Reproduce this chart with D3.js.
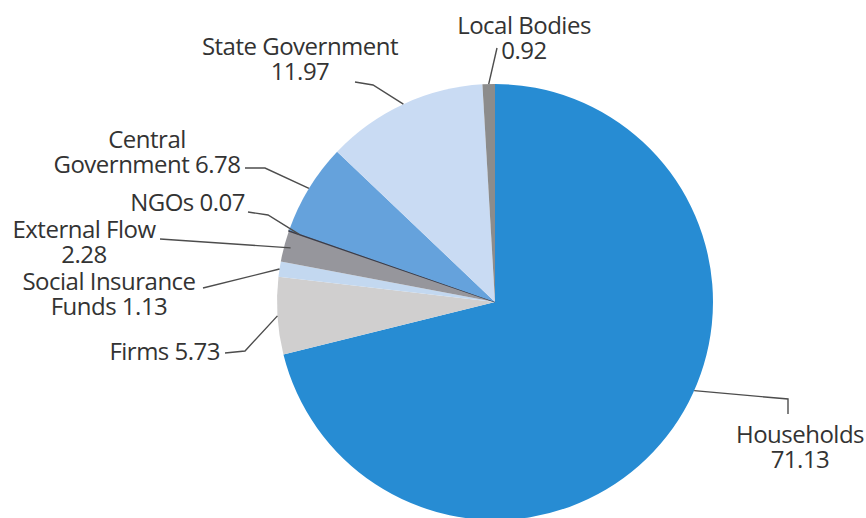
<!DOCTYPE html>
<html><head><meta charset="utf-8">
<script src="https://cdn.jsdelivr.net/npm/d3@7"></script>
<style>body{margin:0;background:#fff}svg{display:block}</style>
</head><body>
<svg id="c" width="866" height="518"></svg>
<script>
// data
const categories = ["Households","Firms","Social Insurance Funds","External Flow","NGOs","Central Government","State Government","Local Bodies"];
const values = [71.13, 5.73, 1.13, 2.28, 0.07, 6.78, 11.97, 0.92];
const labelLines = [
  ["Households","71.13"],
  ["Firms 5.73"],
  ["Social Insurance","Funds 1.13"],
  ["External Flow","2.28"],
  ["NGOs 0.07"],
  ["Central","Government 6.78"],
  ["State Government","11.97"],
  ["Local Bodies","0.92"]
];
// styling / layout
const colors = ["#278cd3","#d0cfcf","#c3d8f0","#96969c","#4a4a55","#65a2dc","#c9dbf3","#8c8c8c"];
const W = 866, H = 518, cx = 495, cy = 302, R = 218;
const labelLayout = [
  {x:800, y:443, a:"middle"},
  {x:220, y:360, a:"end"},
  {x:109, y:290, a:"middle"},
  {x:84,  y:238, a:"middle"},
  {x:245, y:211, a:"end"},
  {x:147, y:148, a:"middle"},
  {x:300, y:55,  a:"middle"},
  {x:524, y:34,  a:"middle"}
];
const leaderLayout = [
  {end:[788,414], elbow:[788,399], ang:114, rf:1.0},
  {end:[225,353], elbow:[245,351], ang:null, rf:1.0},
  {end:[203,288], elbow:null, ang:null, rf:1.0},
  {end:[160,239], elbow:null, ang:null, rf:0.97},
  {end:[248,212], elbow:[268,215], ang:null, rf:0.95},
  {end:[245,168], elbow:[265,168], ang:null, rf:1.0},
  {end:[355,82],  elbow:[373,85],  ang:null, rf:1.0},
  {end:[497,48],  elbow:null, ang:null, rf:1.0}
];

const svg = d3.select("#c");
const data = categories.map((c,i)=>({name:c, value:values[i], i}));
const pie = d3.pie().value(d=>d.value).sort(null);
const arcs = pie(data);
const arc = d3.arc().innerRadius(0).outerRadius(R);
const color = d3.scaleOrdinal().domain(categories).range(colors);

const g = svg.append("g").attr("transform",`translate(${cx},${cy})`);
g.selectAll("path").data(arcs).join("path")
  .attr("d", arc)
  .attr("fill", d=>color(d.data.name))
  .attr("stroke", d=>d.data.name==="NGOs" ? "#3d3d48" : "none")
  .attr("stroke-width", 1.2);

// leader lines
const lineGen = d3.line();
arcs.forEach((d,i)=>{
  const L = leaderLayout[i];
  const angDeg = L.ang!==null ? L.ang : ((d.startAngle+d.endAngle)/2)*180/Math.PI;
  const a = angDeg*Math.PI/180;
  const r = R*L.rf;
  const start = [cx + r*Math.sin(a), cy - r*Math.cos(a)];
  const pts = [L.end];
  if (L.elbow) pts.push(L.elbow);
  pts.push(start);
  svg.append("path").attr("d", lineGen(pts))
    .attr("fill","none").attr("stroke","#4d4d4d").attr("stroke-width",1.4);
});

// labels
labelLines.forEach((lines,i)=>{
  const P = labelLayout[i];
  const t = svg.append("text")
    .attr("x",P.x).attr("y",P.y)
    .attr("text-anchor",P.a)
    .attr("font-family","'Open Sans', sans-serif")
    .attr("font-size",24)
    .attr("fill","#333")
    .attr("letter-spacing","-0.5");
  lines.forEach((ln,k)=>{
    t.append("tspan").attr("x",P.x).attr("dy", k===0?0:25).text(ln);
  });
});
</script>
</body></html>
